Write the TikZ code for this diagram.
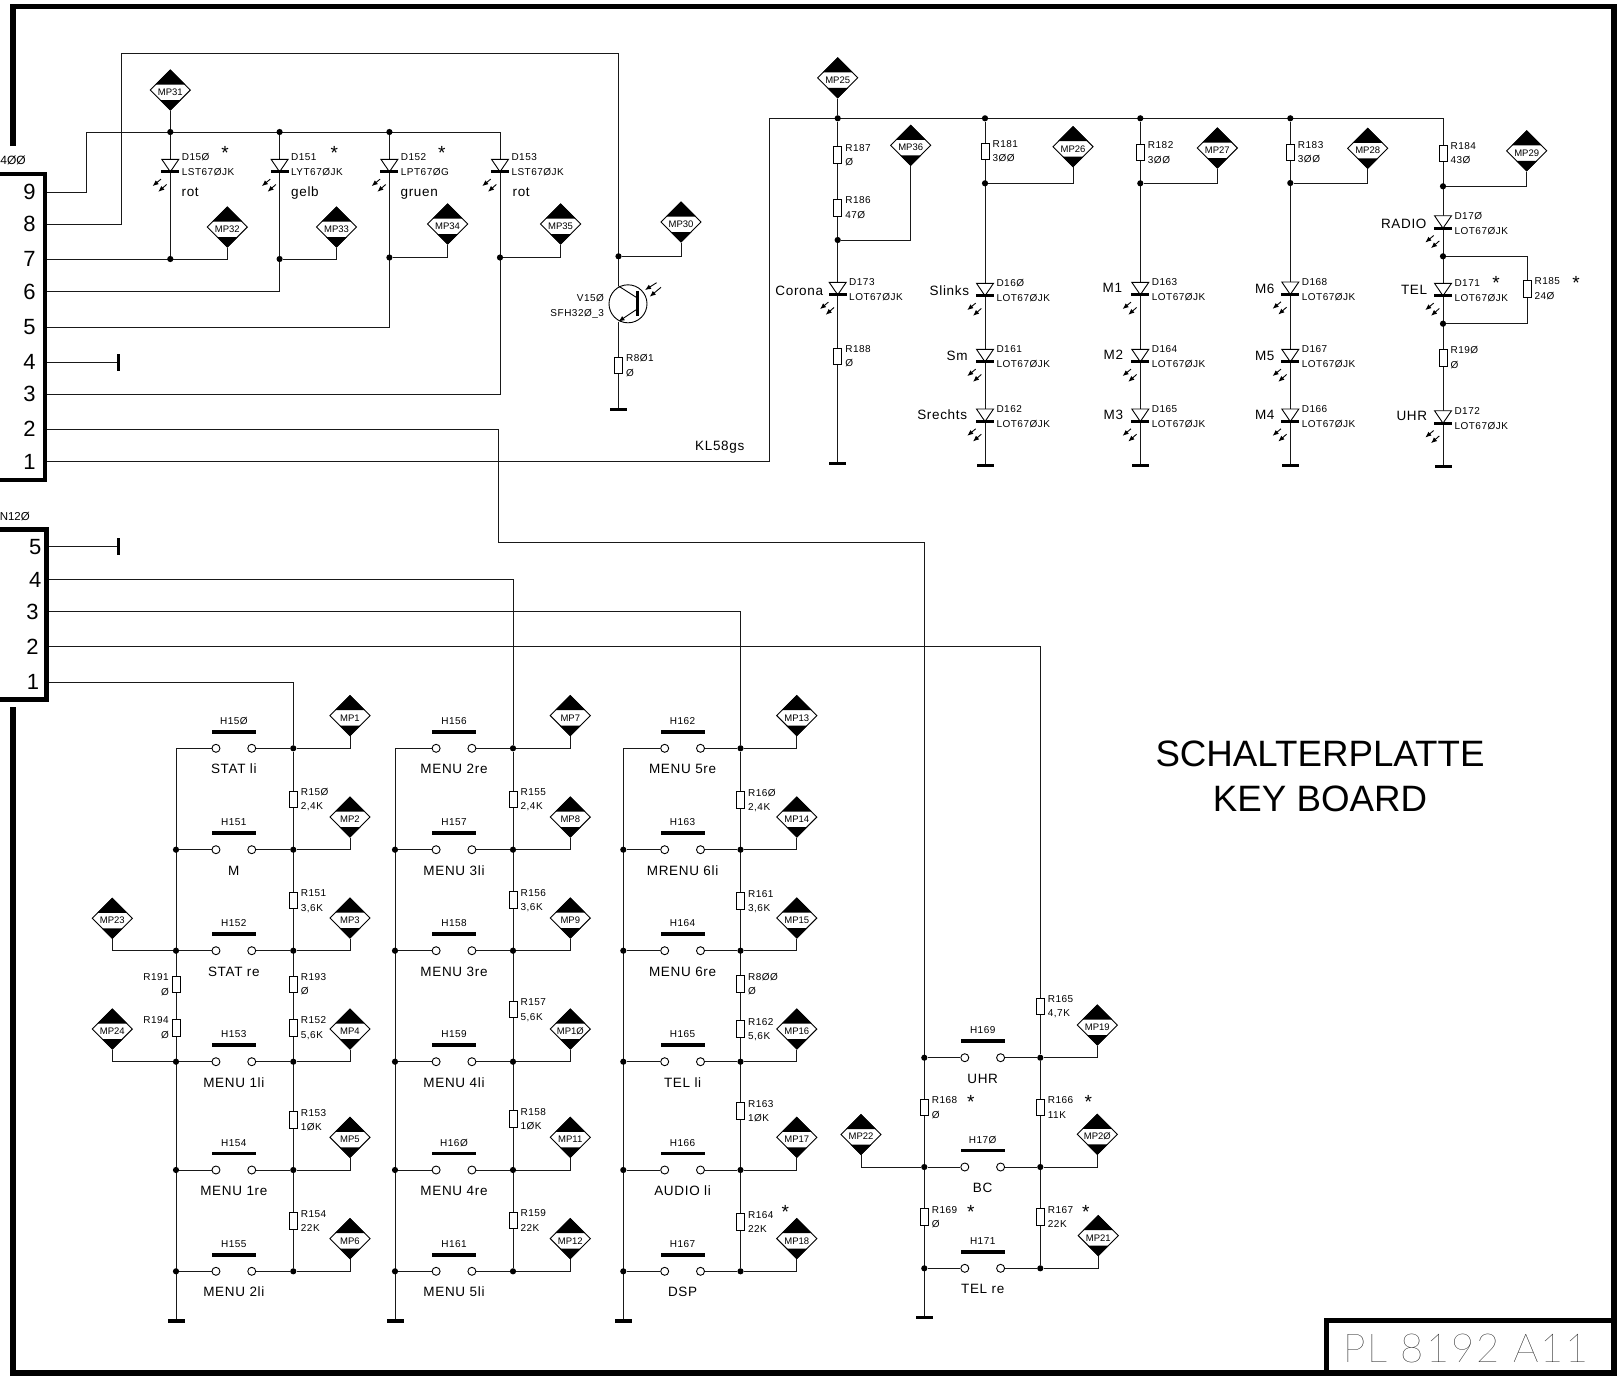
\documentclass[tikz,border=0pt]{standalone}
\usepackage{fontspec}
\setmainfont{Liberation Sans}
\newfontfamily\spaced[LetterSpace=5]{Liberation Sans}
\newfontfamily\thinfont[LetterSpace=5]{Lato Thin}
\usetikzlibrary{arrows.meta,shapes.geometric,backgrounds}
\tikzset{
  wire/.style={line width=1pt,black!90},
  frame/.style={line width=5.5pt,black,line join=miter},
  symbol/.style={line width=0.9pt,black},
  dot/.style={circle,fill=black,inner sep=0pt,minimum size=6.2pt,draw=none},
  nodot/.style={coordinate},
  leftmark/.style={dot},
  res/.style={rectangle,draw=black,line width=0.9pt,fill=white,inner sep=0pt,minimum width=8pt,minimum height=16.5pt},
  gnd/.style={rectangle,fill=black,inner sep=0pt,minimum width=17pt,minimum height=3.2pt},
  stub/.style={rectangle,fill=black,inner sep=0pt,minimum width=3pt,minimum height=17pt},
  dbar/.style={rectangle,fill=black,inner sep=0pt,minimum width=18pt,minimum height=3pt},
  swbar/.style={rectangle,fill=black,inner sep=0pt,minimum width=44pt,minimum height=3.6pt},
  swc/.style={circle,draw=black,line width=0.9pt,fill=white,inner sep=0pt,minimum size=8pt},
  mpbody/.style={diamond,aspect=1,draw=black,line width=0.9pt,fill=white,inner sep=0pt,minimum width=40.5pt,minimum height=40.5pt},
  lbl/.style={font=\fontsize{10}{12}\selectfont\spaced,inner sep=0pt,text height=7.2pt,text depth=0pt},
  mplbl/.style={font=\fontsize{9.5}{11}\selectfont,inner sep=0pt,text height=6.8pt,text depth=0pt},
  biglbl/.style={font=\fontsize{13.5}{16}\selectfont\spaced,inner sep=0pt,text height=9.7pt,text depth=0pt},
  pin/.style={font=\fontsize{22}{26}\selectfont,inner sep=0pt,text height=15.5pt,text depth=0pt},
  astar/.style={font=\fontsize{19}{20}\selectfont,inner sep=0pt,text height=13.6pt,text depth=0pt},
  ledarrow/.style={line width=0.9pt,-{Latex[length=6pt,width=5pt]}},
  titletext/.style={font=\fontsize{36.7}{40}\selectfont,inner sep=0pt},
}
% measuring point: number, x, centre y
\newcommand\MP[3]{%
  \node[mpbody] (mp#1) at (#2,#3) {};
  \fill[black] (#2,#3-20.5) -- (#2+15,#3-5.5) -- (#2-15,#3-5.5) -- cycle;
  \fill[black] (#2,#3+20.5) -- (#2+10.5,#3+10) -- (#2-10.5,#3+10) -- cycle;
  \node[mplbl] (mp#1t) at (#2,#3+2) {MP#1};
}
% resistor: name, x, centre y, value (labels right)
\newcommand\RES[4]{%
  \node[res] (#1) at (#2,#3) {};
  \node[lbl,anchor=west] (#1t) at (#2+7.4,#3-7.6) {#1};
  \node[lbl,anchor=west] (#1v) at (#2+7.4,#3+6.9) {#4};
}
% resistor with labels left
\newcommand\RESL[4]{%
  \node[res] (#1) at (#2,#3) {};
  \node[lbl,anchor=east] (#1t) at (#2-7,#3-7.6) {#1};
  \node[lbl,anchor=east] (#1v) at (#2-7,#3+7.4) {#4};
}
% LED: name, x, triangle top y, first label y, line 1, line 2
\newcommand\DIODE[6]{%
  \filldraw[symbol,fill=white] (#2-8.5,#3) -- (#2+8.5,#3) -- (#2,#3+12.5) -- cycle;
  \node[dbar] (#1) at (#2,#3+12.5) {};
  \draw[ledarrow] (#2-9.3,#3+19.8) -- (#2-17.7,#3+26.8);
  \draw[ledarrow] (#2-3.7,#3+25.2) -- (#2-12,#3+32.5);
  \node[lbl,anchor=west] (#1t) at (#2+11.3,#4) {#5};
  \node[lbl,anchor=west] (#1v) at (#2+11.3,#4+15) {#6};
}
% switch row: id, left rail x, centre x, right rail x, row y, H name, text, MP x, MP number
\newcommand\SWROW[9]{%
  \node[leftmark] (#1L) at (#2,#5) {};
  \node[dot] (#1R) at (#4,#5) {};
  \node[swc] (#1a) at (#3-17.9,#5) {};
  \node[swc] (#1b) at (#3+17.9,#5) {};
  \node[swbar] (#1h) at (#3,#5-16.5) {};
  \node[lbl] (#1n) at (#3,#5-27.6) {#6};
  \node[biglbl] (#1s) at (#3,#5+20.5) {#7};
  \MP{#9}{#8}{#5-32.7}
  \begin{scope}[on background layer]
    \draw[wire] (#1L) -- (#1a);
    \draw[wire] (#1b) -- (#1R);
    \draw[wire] (#1R) -| (mp#9.south);
  \end{scope}
}
\newcommand\ASTAR[3]{\node[astar] (#1) at (#2,#3+4) {*};}
\begin{document}
\begin{tikzpicture}[x=1pt,y=-1pt]
\useasboundingbox (0,0) rectangle (1618,1377);

% sheet frame and title block
\draw[frame] (13,146) -- (13,6.7) -- (1614,6.7) -- (1614,1373) -- (13,1373) -- (13,707);
\draw[frame] (1326.5,1373) -- (1326.5,1320.5) -- (1614,1320.5);
\node[inner sep=0pt,font=\fontsize{40}{42}\selectfont\thinfont,anchor=center] (partno) at (1466,1348.5) {PL 8192 A11};
\node[titletext] (title1) at (1320,754) {SCHALTERPLATTE};
\node[titletext] (title2) at (1320,798.7) {KEY BOARD};

% connector 1
\draw[line width=4.5pt,line join=miter] (0,174) -- (45,174) -- (45,480) -- (0,480);
\node[font=\fontsize{12}{14}\selectfont,inner sep=0pt,anchor=east] (j1name) at (26,160.7) {4ØØ};
\foreach \n/\yy in {9/192,8/224,7/259,6/291.5,5/327,4/362,3/394,2/429,1/461.7}{
  \node[pin] (j1p\n) at (29.5,\yy) {\n};
  \coordinate (j1w\n) at (46,\yy);
}
% connector 2
\draw[line width=4.5pt,line join=miter] (0,529.5) -- (46.5,529.5) -- (46.5,699.5) -- (0,699.5);
\node[font=\fontsize{11.5}{14}\selectfont,inner sep=0pt,anchor=east] (j2name) at (30,516.7) {N12Ø};
\foreach \n/\yy/\xx in {5/546.7/35.3,4/579.3/35.3,3/611.7/32.5,2/646.7/32.5,1/682/33}{
  \node[pin] (j2p\n) at (\xx,\yy) {\n};
  \coordinate (j2w\n) at (47,\yy);
}
\node[stub] (t4) at (118.5,362) {};
\node[stub] (t5) at (118.3,546.7) {};

% status LEDs, upper left
\node[dot] (b150) at (170.3,132) {};
\node[dot] (b151) at (279.6,132) {};
\node[dot] (b152) at (389.4,132) {};
\coordinate (bS) at (86.3,132);
\coordinate (bE) at (500,132);
\node[dot] (m150) at (170.3,259) {};
\node[dot] (m151) at (279.6,259) {};
\node[dot] (m152) at (389.4,257.5) {};
\node[dot] (m153) at (500,257.5) {};
\DIODE{D15Ø}{170.3}{159.3}{157.3}{D15Ø}{LST67ØJK}
\DIODE{D151}{279.6}{159.3}{157.3}{D151}{LYT67ØJK}
\DIODE{D152}{389.4}{159.3}{157.3}{D152}{LPT67ØG}
\DIODE{D153}{500}{159.3}{157.3}{D153}{LST67ØJK}
\node[biglbl,anchor=west] (c150) at (181.4,191.8) {rot};
\node[biglbl,anchor=west] (c151) at (291,191.8) {gelb};
\node[biglbl,anchor=west] (c152) at (400.4,191.8) {gruen};
\node[biglbl,anchor=west] (c153) at (512.4,191.8) {rot};
\ASTAR{s150}{225}{149}
\ASTAR{s151}{334.3}{148.5}
\ASTAR{s152}{441.7}{148.5}
\MP{31}{170.3}{90}
\MP{32}{227.3}{227}
\MP{33}{336.5}{227}
\MP{34}{447.6}{224}
\MP{35}{560.6}{224}
\MP{30}{681}{222}

% photo transistor
\node[dot] (m30) at (618.5,256.3) {};
\coordinate (t8) at (121.7,53.5);
\node[circle,draw=black,line width=0.9pt,fill=white,inner sep=0pt,minimum size=38pt] (V15Ø) at (628,303.8) {};
\coordinate (Vc) at (618.5,286);
\coordinate (Ve) at (618.5,321.5);
\coordinate (Vbc) at (637.3,298);
\coordinate (Vbe) at (637.3,309);
\draw[symbol] (Vc) -- (Vbc);
\draw[line width=0.9pt,-{Latex[length=6pt,width=5pt]}] (Vbe) -- (Ve);
\draw[line width=3pt] (637.3,291) -- (637.3,316);
\draw[ledarrow] (656.6,282.7) -- (645,290);
\draw[ledarrow] (661,287.3) -- (649.7,296.7);
\node[lbl,anchor=east] (Vn) at (604.2,297.7) {V15Ø};
\node[lbl,anchor=east] (Vt) at (604.2,313.3) {SFH32Ø\_3};
\RES{R8Ø1}{618.5}{365.5}{Ø}
\node[gnd] (g801) at (618.5,409.3) {};

% power bus, upper right
\coordinate (p1a) at (769,118.3);
\coordinate (bR) at (1443,118.3);
\node[lbl,font=\fontsize{13.5}{16}\selectfont\spaced,anchor=west] (kl) at (695,446.7) {KL58gs};
\node[dot] (bA) at (837.7,118.3) {};
\node[dot] (bB) at (985,118.3) {};
\node[dot] (bC) at (1140.3,118.3) {};
\node[dot] (bD) at (1290.3,118.3) {};
\MP{25}{837.7}{77.8}
\MP{36}{910.7}{145.3}
\MP{26}{1073}{146.7}
\MP{27}{1217.3}{148}
\MP{28}{1367.7}{148.3}
\MP{29}{1526.7}{150.8}
% column A
\RES{R187}{837.7}{155}{ Ø}
\RES{R186}{837.7}{207.7}{47Ø}
\node[dot] (jA) at (837.7,240) {};
\DIODE{D173}{837.7}{282.3}{281.7}{D173}{LOT67ØJK}
\node[biglbl,anchor=east] (cA) at (823.3,291) {Corona};
\RES{R188}{837.7}{356.3}{ Ø}
\node[gnd] (gA) at (837.7,463.3) {};
% column B
\RES{R181}{985}{151.2}{3ØØ}
\node[dot] (jB) at (985,183.3) {};
\DIODE{D16Ø}{985}{283.3}{283.3}{D16Ø}{LOT67ØJK}
\DIODE{D161}{985}{349.3}{349.3}{D161}{LOT67ØJK}
\DIODE{D162}{985}{409}{409}{D162}{LOT67ØJK}
\node[biglbl,anchor=east] (cB1) at (969.3,290.7) {Slinks};
\node[biglbl,anchor=east] (cB2) at (967.7,355.7) {Sm};
\node[biglbl,anchor=east] (cB3) at (967.3,415) {Srechts};
\node[gnd] (gB) at (985,465.3) {};
% column C
\RES{R182}{1140.3}{152.5}{3ØØ}
\node[dot] (jC) at (1140.3,183.3) {};
\DIODE{D163}{1140.3}{282.3}{281.7}{D163}{LOT67ØJK}
\DIODE{D164}{1140.3}{349.3}{349.3}{D164}{LOT67ØJK}
\DIODE{D165}{1140.3}{409}{409}{D165}{LOT67ØJK}
\node[biglbl,anchor=east] (cC1) at (1122.3,288) {M1};
\node[biglbl,anchor=east] (cC2) at (1123.3,355) {M2};
\node[biglbl,anchor=east] (cC3) at (1123.3,415) {M3};
\node[gnd] (gC) at (1140.3,465.3) {};
% column D
\RES{R183}{1290.3}{152.3}{3ØØ}
\node[dot] (jD) at (1290.3,183) {};
\DIODE{D168}{1290.3}{282}{281.7}{D168}{LOT67ØJK}
\DIODE{D167}{1290.3}{349.3}{349.3}{D167}{LOT67ØJK}
\DIODE{D166}{1290.3}{409}{409}{D166}{LOT67ØJK}
\node[biglbl,anchor=east] (cD1) at (1274.7,288.3) {M6};
\node[biglbl,anchor=east] (cD2) at (1274.7,355.7) {M5};
\node[biglbl,anchor=east] (cD3) at (1274.7,415) {M4};
\node[gnd] (gD) at (1290.3,465.7) {};
% column E
\RES{R184}{1443}{153.3}{43Ø}
\node[dot] (jE) at (1443,186.3) {};
\DIODE{D17Ø}{1443}{215.7}{215.7}{D17Ø}{LOT67ØJK}
\node[dot] (jE2) at (1443,256.3) {};
\DIODE{D171}{1443}{283.3}{283}{D171}{LOT67ØJK}
\node[dot] (jE3) at (1443,323.7) {};
\RES{R185}{1527}{288.7}{24Ø}
\RES{R19Ø}{1443}{357.7}{Ø}
\DIODE{D172}{1443}{410.7}{410.7}{D172}{LOT67ØJK}
\node[biglbl,anchor=east] (cE1) at (1426.7,223.3) {RADIO};
\node[biglbl,anchor=east] (cE2) at (1427.3,290) {TEL};
\node[biglbl,anchor=east] (cE3) at (1427.3,416) {UHR};
\ASTAR{s171}{1496}{279}
\ASTAR{s185}{1576}{279}
\node[gnd] (gE) at (1443,466.3) {};

% switch column 1
\tikzset{leftmark/.style={nodot}}
\SWROW{a1}{176}{233.85}{293.3}{748.3}{H15Ø}{STAT li}{350}{1}
\tikzset{leftmark/.style={dot}}
\SWROW{a2}{176}{233.85}{293.3}{849.7}{H151}{M}{350}{2}
\SWROW{a3}{176}{233.85}{293.3}{950.7}{H152}{STAT re}{350}{3}
\SWROW{a4}{176}{233.85}{293.3}{1061.7}{H153}{MENU 1li}{350}{4}
\SWROW{a5}{176}{233.85}{293.3}{1170}{H154}{MENU 1re}{350}{5}
\SWROW{a6}{176}{233.85}{293.3}{1271.3}{H155}{MENU 2li}{350}{6}
\RES{R15Ø}{293.3}{799.3}{2,4K}
\RES{R151}{293.3}{900.5}{3,6K}
\RES{R193}{293.3}{984.3}{Ø}
\RES{R152}{293.3}{1027.7}{5,6K}
\RES{R153}{293.3}{1120}{1ØK}
\RES{R154}{293.3}{1221}{22K}
\RESL{R191}{176}{984.3}{Ø}
\RESL{R194}{176}{1027.7}{Ø}
\MP{23}{112.3}{918.3}
\MP{24}{112.3}{1029}
\node[gnd] (g1) at (176,1321) {};

% switch column 2
\tikzset{leftmark/.style={nodot}}
\SWROW{b1}{395}{454}{513}{748.3}{H156}{MENU 2re}{570.3}{7}
\tikzset{leftmark/.style={dot}}
\SWROW{b2}{395}{454}{513}{849.7}{H157}{MENU 3li}{570.3}{8}
\SWROW{b3}{395}{454}{513}{950.7}{H158}{MENU 3re}{570.3}{9}
\SWROW{b4}{395}{454}{513}{1061.7}{H159}{MENU 4li}{570.3}{1Ø}
\SWROW{b5}{395}{454}{513}{1170}{H16Ø}{MENU 4re}{570.3}{11}
\SWROW{b6}{395}{454}{513}{1271.3}{H161}{MENU 5li}{570.3}{12}
\RES{R155}{513}{799.3}{2,4K}
\RES{R156}{513}{900}{3,6K}
\RES{R157}{513}{1009.5}{5,6K}
\RES{R158}{513}{1119}{1ØK}
\RES{R159}{513}{1220.5}{22K}
\node[gnd] (g2) at (395,1321) {};

% switch column 3
\tikzset{leftmark/.style={nodot}}
\SWROW{c1}{623.3}{682.6}{740.5}{748.3}{H162}{MENU 5re}{796.8}{13}
\tikzset{leftmark/.style={dot}}
\SWROW{c2}{623.3}{682.6}{740.5}{849.7}{H163}{MRENU 6li}{796.8}{14}
\SWROW{c3}{623.3}{682.6}{740.5}{950.7}{H164}{MENU 6re}{796.8}{15}
\SWROW{c4}{623.3}{682.6}{740.5}{1061.7}{H165}{TEL li}{796.8}{16}
\SWROW{c5}{623.3}{682.6}{740.5}{1170}{H166}{AUDIO li}{796.8}{17}
\SWROW{c6}{623.3}{682.6}{740.5}{1271.3}{H167}{DSP}{796.8}{18}
\RES{R16Ø}{740.5}{800}{2,4K}
\RES{R161}{740.5}{901}{3,6K}
\RES{R8ØØ}{740.5}{984}{Ø}
\RES{R162}{740.5}{1029}{5,6K}
\RES{R163}{740.5}{1111}{1ØK}
\RES{R164}{740.5}{1222}{22K}
\ASTAR{s164}{785.3}{1208}
\node[gnd] (g3) at (623.3,1321) {};

% switch column 4
\SWROW{d1}{924.3}{982.7}{1040.3}{1057.7}{H169}{UHR}{1097.3}{19}
\SWROW{d2}{924.3}{982.7}{1040.3}{1167}{H17Ø}{BC}{1097.3}{2Ø}
\SWROW{d3}{924.3}{982.7}{1040.3}{1268.3}{H171}{TEL re}{1098.3}{21}
\RES{R165}{1040.3}{1006.2}{4,7K}
\RES{R168}{924.3}{1107.5}{Ø}
\RES{R166}{1040.3}{1107.5}{11K}
\RES{R169}{924.3}{1217}{Ø}
\RES{R167}{1040.3}{1217}{22K}
\ASTAR{s168}{970.7}{1097.7}
\ASTAR{s166}{1088.3}{1097.7}
\ASTAR{s169}{970.7}{1207.3}
\ASTAR{s167}{1085.7}{1207.3}
\MP{22}{861}{1134.5}
\node[gnd] (g4) at (924.3,1317.3) {};
\coordinate (t2) at (498.6,542);

% wires
\begin{scope}[on background layer]
  \draw[wire] (j1w9) -| (bS) -- (bE) |- (j1w3);
  \draw[wire] (j1w8) -| (t8) -| (Vc);
  \draw[wire] (Ve) -- (g801);
  \draw[wire] (m30) -| (mp30.south);
  \draw[wire] (j1w7) -| (mp32.south);
  \draw[wire] (m151) -| (mp33.south);
  \draw[wire] (m152) -| (mp34.south);
  \draw[wire] (m153) -| (mp35.south);
  \draw[wire] (mp31.south) -- (b150);
  \draw[wire] (b150) -- (m150);
  \draw[wire] (j1w6) -| (b151);
  \draw[wire] (j1w5) -| (b152);
  \draw[wire] (j1w4) -- (t4);
  \draw[wire] (j2w5) -- (t5);
  \draw[wire] (j1w2) -| (t2) -| (g4);
  \draw[wire] (j1w1) -| (p1a) -- (bR) -- (gE);
  \draw[wire] (mp25.south) -- (bA);
  \draw[wire] (bA) -- (gA);
  \draw[wire] (bB) -- (gB);
  \draw[wire] (bC) -- (gC);
  \draw[wire] (bD) -- (gD);
  \draw[wire] (jA) -| (mp36.south);
  \draw[wire] (jB) -| (mp26.south);
  \draw[wire] (jC) -| (mp27.south);
  \draw[wire] (jD) -| (mp28.south);
  \draw[wire] (jE) -| (mp29.south);
  \draw[wire] (jE2) -| (R185);
  \draw[wire] (R185) |- (jE3);
  \draw[wire] (j2w1) -| (a1R);
  \draw[wire] (j2w4) -| (b1R);
  \draw[wire] (j2w3) -| (c1R);
  \draw[wire] (j2w2) -| (d1R);
  \draw[wire] (a1R) -- (a6R);
  \draw[wire] (b1R) -- (b6R);
  \draw[wire] (c1R) -- (c6R);
  \draw[wire] (d1R) -- (d3R);
  \draw[wire] (a1L) -- (g1);
  \draw[wire] (b1L) -- (g2);
  \draw[wire] (c1L) -- (g3);
  \draw[wire] (a3L) -| (mp23.south);
  \draw[wire] (a4L) -| (mp24.south);
  \draw[wire] (d2L) -| (mp22.south);
\end{scope}
\end{tikzpicture}
\end{document}
